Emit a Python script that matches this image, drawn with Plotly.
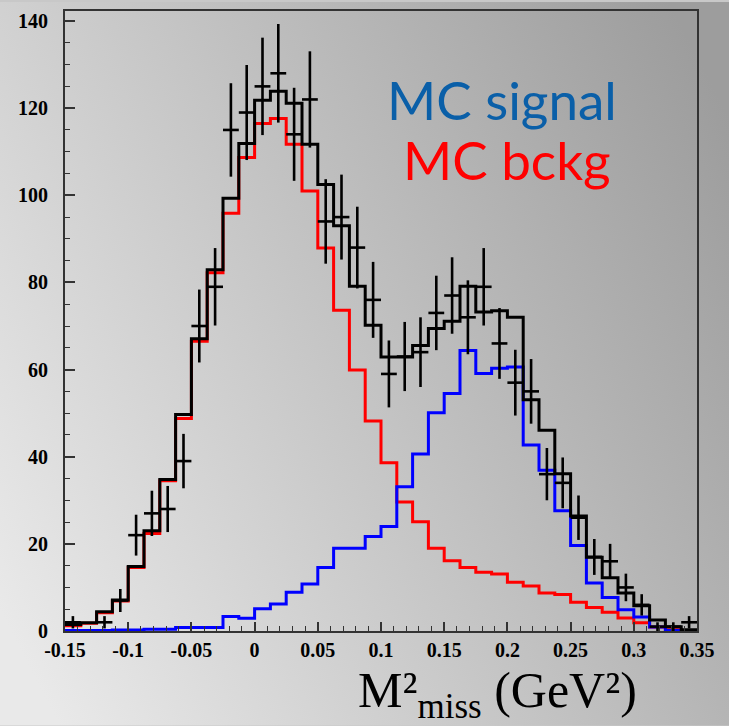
import base64
import numpy as np
import plotly.graph_objects as go

# ---------------- data ----------------
x_min, x_max = -0.15, 0.35
n_bins = 40
bin_edges = np.linspace(x_min, x_max, n_bins + 1)
bin_centers = 0.5 * (bin_edges[:-1] + bin_edges[1:])
half_width = 0.5 * (bin_edges[1] - bin_edges[0])

mc_bckg = [1.2, 1.8, 4.2, 6.9, 14.6, 22.4, 34.5, 48.8, 66.5, 82.2,
           95.9, 108.7, 116.5, 117.6, 111.7, 101.0, 87.9, 73.6, 59.9, 48.2,
           38.6, 29.6, 25.1, 19.0, 16.1, 14.6, 13.5, 13.1, 11.2, 10.3,
           8.7, 8.4, 6.6, 5.4, 4.3, 3.0, 1.9, 0.9, 0.3, 0.1]

mc_signal = [0.1, 0.1, 0.1, 0.25, 0.25, 0.4, 0.4, 0.8, 0.8, 0.8,
             3.3, 2.9, 5.1, 6.2, 8.9, 10.8, 14.6, 19.0, 19.0, 21.7,
             24.0, 33.1, 40.6, 50.1, 54.5, 64.4, 59.1, 60.3, 60.6, 42.7,
             36.9, 27.6, 19.6, 11.0, 7.7, 4.9, 3.2, 0.9, 0.1, 0.05]

mc_total = [1.5, 1.9, 4.4, 7.1, 14.8, 23.0, 34.8, 49.7, 67.1, 82.9,
            99.3, 111.9, 121.8, 123.9, 121.1, 111.7, 102.5, 93.0, 79.1, 70.2,
            62.9, 62.9, 65.5, 69.4, 71.1, 79.1, 73.2, 73.5, 72.0, 53.1,
            46.1, 36.1, 26.4, 16.9, 12.2, 8.7, 5.8, 2.5, 1.0, 0.3]

data_counts = [2, None, 2, 7, 22, 27, 28, 39, 70, 79,
               115, 119, 125, 128, 114, 122, 94, 95, 88, 76,
               59, 63, 64, 73, 77, 72, 79, 66, 57, 55,
               36, 34, 26, 17, 16, 10, 6, 1, 1, 2]

x_tick_vals = [-0.15, -0.1, -0.05, 0, 0.05, 0.1, 0.15, 0.2, 0.25, 0.3, 0.35]
x_tick_text = ["-0.15", "-0.1", "-0.05", "0", "0.05", "0.1", "0.15", "0.2", "0.25", "0.3", "0.35"]
y_tick_vals = [0, 20, 40, 60, 80, 100, 120, 140]

# ---------------- figure ----------------
fig = go.Figure()


def step_trace(values, color):
    ys = list(values) + [values[-1]]
    return go.Scatter(x=bin_edges, y=ys, mode="lines", line_shape="hv",
                      line=dict(color=color, width=3), hoverinfo="skip",
                      showlegend=False)


fig.add_trace(step_trace(mc_bckg, "#ff0000"))
fig.add_trace(step_trace(mc_signal, "#0000ff"))
fig.add_trace(step_trace(mc_total, "#000000"))

d_x = [c for c, v in zip(bin_centers, data_counts) if v is not None]
d_y = [v for v in data_counts if v is not None]
d_err = [np.sqrt(v) for v in d_y]
fig.add_trace(go.Scatter(
    x=d_x, y=d_y, mode="markers",
    marker=dict(size=1, color="black"),
    error_y=dict(type="data", array=d_err, visible=True, width=0, thickness=2.6, color="black"),
    error_x=dict(type="data", array=[half_width] * len(d_x), visible=True, width=0, thickness=2.6, color="black"),
    showlegend=False, hoverinfo="skip"))

# gradient background as inline svg
W, H = 729, 726
svg = f'''<svg xmlns="http://www.w3.org/2000/svg" width="{W}" height="{H}" viewBox="0 0 {W} {H}" preserveAspectRatio="none">
<defs><linearGradient id="g" x1="1.035" y1="0.228" x2="-0.035" y2="0.772">
<stop offset="0" stop-color="#9d9d9d"/><stop offset="1" stop-color="#e9e9e9"/></linearGradient></defs>
<rect width="{W}" height="{H}" fill="url(#g)"/></svg>'''
src = "data:image/svg+xml;base64," + base64.b64encode(svg.encode()).decode()

ml, mr, mt, mb = 65, 32, 9, 95
pw, ph = W - ml - mr, H - mt - mb

fig.add_layout_image(dict(source=src, xref="paper", yref="paper",
                          x=-ml / pw, y=1 + mt / ph, sizex=W / pw, sizey=H / ph,
                          xanchor="left", yanchor="top", sizing="stretch", layer="below"))

tickfont = dict(family="Liberation Serif", size=20, color="black", weight="bold")

fig.update_layout(
    width=W, height=H,
    margin=dict(l=ml, r=mr, t=mt, b=mb),
    paper_bgcolor="#c8c8c8",
    plot_bgcolor="rgba(0,0,0,0)",
    showlegend=False,
    xaxis=dict(range=[x_min, x_max], tickmode="array", tickvals=x_tick_vals, ticktext=x_tick_text,
               ticks="inside", ticklen=9, tickwidth=1.5, tickcolor="#333",
               minor=dict(dtick=0.01, tick0=0, ticks="inside", ticklen=5, tickwidth=1.2, tickcolor="#333"),
               showgrid=False, zeroline=False, showline=True, linecolor="#333", linewidth=2,
               mirror=True, tickfont=tickfont),
    yaxis=dict(range=[0, 142.3], tickmode="array", tickvals=y_tick_vals,
               ticks="inside", ticklen=10, tickwidth=1.5, tickcolor="#333",
               minor=dict(dtick=5, tick0=0, ticks="inside", ticklen=5, tickwidth=1.2, tickcolor="#333"),
               showgrid=False, zeroline=False, showline=True, linecolor="#333", linewidth=2,
               mirror=True, tickfont=tickfont, ticklabelstandoff=11),
)

fig.add_annotation(x=0.196, y=122.0, xref="x", yref="y", text="MC signal", showarrow=False,
                   font=dict(family="Lato", size=53, color="#0a5fa8"), xanchor="center", yanchor="middle")
fig.add_annotation(x=0.1995, y=108.2, xref="x", yref="y", text="MC bckg", showarrow=False,
                   font=dict(family="Lato", size=53, color="#ff0000"), xanchor="center", yanchor="middle")
fig.add_annotation(x=0.684, y=-0.102, xref="paper", yref="paper",
                   text="M²<sub>miss</sub> (GeV²)", showarrow=False,
                   font=dict(family="Liberation Serif", size=50, color="black"),
                   xanchor="center", yanchor="middle")

fig.write_html("out.html")
